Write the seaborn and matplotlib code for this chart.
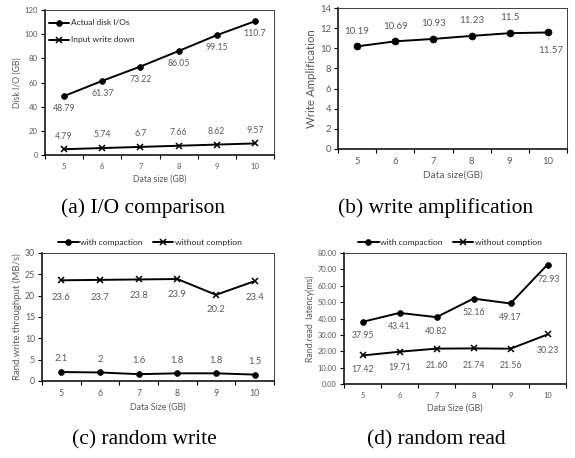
import numpy as np
import pandas as pd
import matplotlib
matplotlib.use("Agg")
import matplotlib.pyplot as plt
import seaborn as sns
from matplotlib.ticker import FixedLocator, FormatStrFormatter

# ---------------- data ----------------
sizes = [5, 6, 7, 8, 9, 10]

actual_io = [48.79, 61.37, 73.22, 86.05, 99.15, 110.7]
input_write = [4.79, 5.74, 6.7, 7.66, 8.62, 9.57]

write_amp = [10.19, 10.69, 10.93, 11.23, 11.5, 11.57]

rw_with = [2.1, 2, 1.6, 1.8, 1.8, 1.5]
rw_without = [23.6, 23.7, 23.8, 23.9, 20.2, 23.4]

rr_with = [37.95, 43.41, 40.82, 52.16, 49.17, 72.93]
rr_without = [17.42, 19.71, 21.60, 21.74, 21.56, 30.23]

captions = ["(a) I/O comparison", "(b) write amplification",
            "(c) random write", "(d) random read"]

# ---------------- style ----------------
sns.set_style("white")
plt.rcParams["font.family"] = ["Lato", "DejaVu Sans"]
GRAY = "#595959"
W, H = 575, 458
fig = plt.figure(figsize=(W / 100, H / 100), dpi=100)


def make_ax(l, r, t, b):
    return fig.add_axes([l / W, 1 - b / H, (r - l) / W, (b - t) / H])


def style_ax(ax, ymax, ystep, tick_fs, xlabel, ylabel, xl_fs, yl_fs, yfmt=None):
    ax.set_xlim(4.5, 10.5)
    ax.set_ylim(0, ymax)
    ax.set_xticks(sizes)
    ax.set_xticklabels([str(s) for s in sizes])
    ax.xaxis.set_minor_locator(FixedLocator(np.arange(4.5, 10.6, 1.0)))
    ax.tick_params(axis="x", which="major", length=0, labelsize=tick_fs,
                   labelcolor=GRAY, pad=6)
    ax.tick_params(axis="x", which="minor", length=3, width=0.8,
                   color="black", direction="out", bottom=True)
    ax.set_yticks(np.arange(0, ymax + 0.001, ystep))
    if yfmt:
        ax.yaxis.set_major_formatter(FormatStrFormatter(yfmt))
    ax.tick_params(axis="y", length=3, width=0.8, color="black",
                   direction="out", left=True, labelsize=tick_fs,
                   labelcolor=GRAY, pad=2)
    for side in ["left", "bottom"]:
        ax.spines[side].set_color("black")
        ax.spines[side].set_linewidth(1.1)
    for side in ["top", "right"]:
        ax.spines[side].set_color("#404040")
        ax.spines[side].set_linewidth(0.7)
        ax.spines[side].set_visible(True)
    ax.set_xlabel(xlabel, fontsize=xl_fs, color=GRAY, labelpad=3)
    ax.set_ylabel(ylabel, fontsize=yl_fs, color=GRAY, labelpad=2)


def plot_series(ax, y, marker, label, ms):
    sns.lineplot(x=sizes, y=y, ax=ax, color="black", lw=1.4, marker=marker,
                 markersize=ms, markeredgewidth=1.1 if marker == "x" else 0.5,
                 markeredgecolor="black", label=label, legend=False)


def label_points(ax, y, dy, fmt, fs, dx=None):
    for i, (xv, yv) in enumerate(zip(sizes, y)):
        off_y = dy[i] if isinstance(dy, (list, tuple)) else dy
        off_x = dx[i] if dx is not None else 0
        ax.annotate(fmt.format(yv) if fmt else f"{yv:g}", (xv, yv),
                    xytext=(off_x, off_y), textcoords="offset points",
                    ha="center", va="center", fontsize=fs, color=GRAY)


# ---------------- (a) ----------------
ax = make_ax(45, 274, 10, 155)
plot_series(ax, actual_io, "o", "Actual disk I/Os", 4.2)
plot_series(ax, input_write, "x", "Input write down", 4.5)
style_ax(ax, 120, 20, 5.6, "Data size (GB)", "Disk I/O (GB)", 6.2, 6.2)
label_points(ax, actual_io, -9, None, 6.3)
label_points(ax, input_write, 9.5, None, 6.3)
ax.legend(loc="upper left", bbox_to_anchor=(0.017, 0.935), frameon=False,
          fontsize=6, handlelength=2.4, handletextpad=0.2, labelspacing=1.2,
          borderpad=0, borderaxespad=0)

# ---------------- (b) ----------------
ax = make_ax(338, 567, 8, 149)
plot_series(ax, write_amp, "o", "Write Amplification", 5.0)
style_ax(ax, 14, 2, 6.8, "Data size(GB)", "Write Amplification", 7.2, 8.3)
label_points(ax, write_amp[:5], 11, None, 7)
ax.annotate(f"{write_amp[5]:g}", (sizes[5], write_amp[5]), xytext=(2, -13),
            textcoords="offset points", ha="center", va="center", fontsize=7,
            color=GRAY,
            arrowprops=dict(arrowstyle="-", color="#7f7f7f", lw=0.5,
                            shrinkA=2, shrinkB=4))

# ---------------- (c) ----------------
ax = make_ax(42, 274, 253, 381)
plot_series(ax, rw_with, "o", "with compaction", 4.2)
plot_series(ax, rw_without, "x", "without comption", 4.5)
style_ax(ax, 30, 5, 6.3, "Data Size (GB)", "Rand.write.throughput (MB/s)",
         6.4, 6.9)
label_points(ax, rw_with, 9.5, None, 6.8)
label_points(ax, rw_without, [-12.5, -12.5, -11.5, -11.5, -10.5, -12], None, 6.8)
h, l = ax.get_legend_handles_labels()
fig.legend(h, l, loc="center", bbox_to_anchor=(150 / W, 1 - 242 / H),
           ncol=2, frameon=False, fontsize=6.1, handlelength=2.4,
           handletextpad=0.2, columnspacing=1.2, borderpad=0)

# ---------------- (d) ----------------
ax = make_ax(344, 566, 253, 384)
plot_series(ax, rr_with, "o", "with compaction", 4.2)
plot_series(ax, rr_without, "x", "without comption", 4.5)
style_ax(ax, 80, 10, 5.4, "Data Size (GB)", "Rand.read  latency(ms)", 6.4,
         6.3, yfmt="%.2f")
label_points(ax, rr_with, [-10, -10, -10, -10, -10, -10.5], "{:.2f}", 6.3,
             dx=[0, 0, 0, 0, 0, 1])
label_points(ax, rr_without, [-10, -11.5, -12, -12, -12, -11.5],
             "{:.2f}", 6.3)
h, l = ax.get_legend_handles_labels()
fig.legend(h, l, loc="center", bbox_to_anchor=(450 / W, 1 - 242 / H),
           ncol=2, frameon=False, fontsize=6.1, handlelength=2.4,
           handletextpad=0.2, columnspacing=1.2, borderpad=0)

# ---------------- captions ----------------
cap_pos = [(143, 208), (436, 208), (144, 440), (436, 440)]
for txt, (cx, cy) in zip(captions, cap_pos):
    fig.text(cx / W, 1 - cy / H, txt, ha="center", va="center",
             fontsize=15.5, family="Liberation Serif", color="black")

fig.savefig("out.png", dpi=100, facecolor="white")
